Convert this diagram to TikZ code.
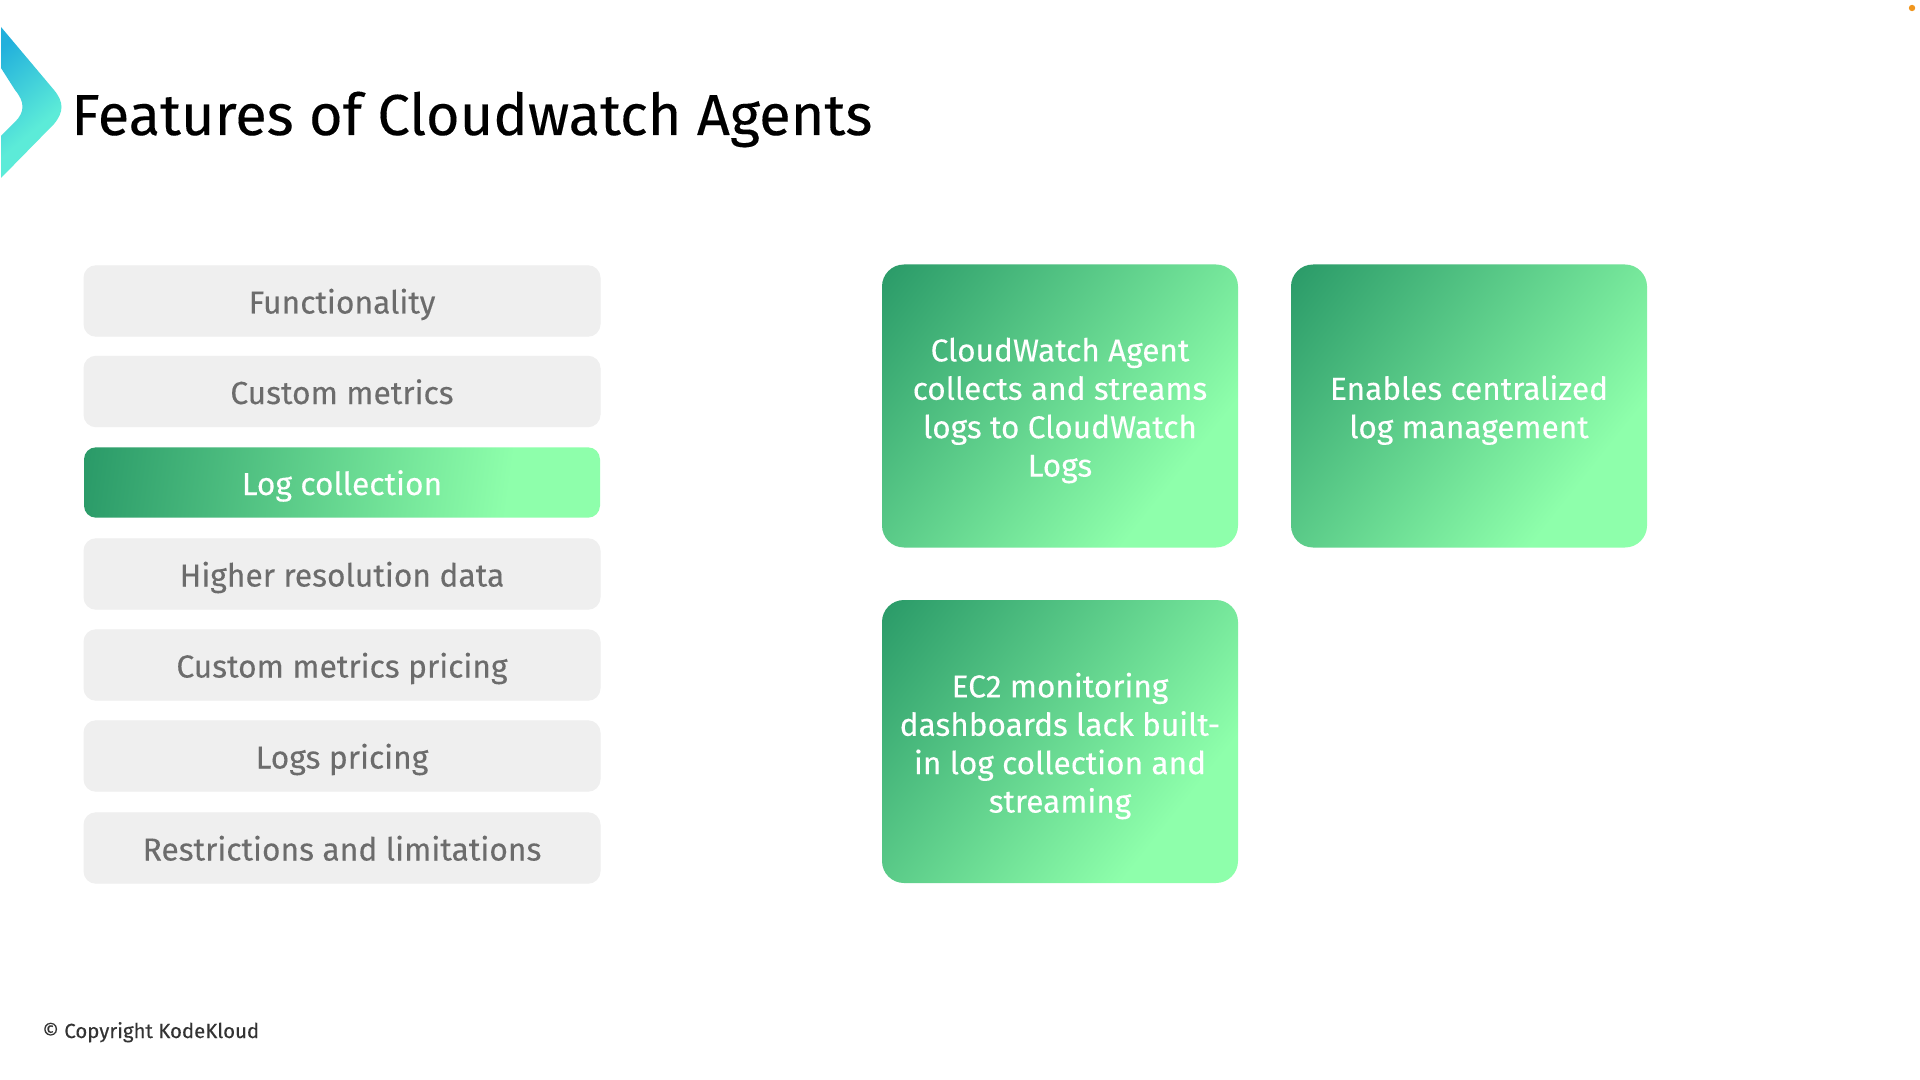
\documentclass[tikz,border=0pt]{standalone}
\usepackage{fontspec}
\setmainfont{Fira Sans}[FakeBold=0.2]
\definecolor{gdark}{HTML}{2A9A68}
\definecolor{glight}{HTML}{8EFFAB}
\definecolor{barfill}{HTML}{EFEFEF}
\definecolor{bartext}{HTML}{6C6C6C}
\definecolor{chevA}{HTML}{22B0DC}
\definecolor{chevB}{HTML}{5CEBD8}
\definecolor{dotc}{HTML}{F0961E}
\pgfdeclarehorizontalshading{cardfade}{100bp}{color(0bp)=(gdark); color(15bp)=(gdark); color(71bp)=(glight); color(100bp)=(glight)}
\pgfdeclarehorizontalshading{barfade}{100bp}{color(0bp)=(gdark); color(22bp)=(gdark); color(68bp)=(glight); color(100bp)=(glight)}
\pgfdeclarehorizontalshading{chevfade}{100bp}{color(0bp)=(chevA); color(22bp)=(chevA); color(60bp)=(chevB); color(100bp)=(chevB)}
\tikzset{
  x=0.5pt,y=-0.5pt,
  barbase/.style={minimum width=258pt,minimum height=35.2pt,inner sep=0pt,rounded corners=6pt,
    font=\fontsize{15.9}{18}\selectfont,text height=15.5pt,text depth=3pt},
  baritem/.style={barbase,fill=barfill,draw=barfill,line width=0.5pt,text=bartext},
  baron/.style={barbase,shading=barfade,shading angle=-7.8,text=white},
  card/.style={minimum width=178pt,minimum height=141.5pt,inner sep=0pt,rounded corners=11pt,
    shading=cardfade,shading angle=-38.4,text=white},
  cardtext/.style={inner sep=0pt,text=white,align=center,font=\fontsize{15.8}{19.2}\selectfont},
}
\begin{document}
\begin{tikzpicture}
\useasboundingbox (0,0) rectangle (1920,1080);
\fill[white] (0,0) rectangle (1920,1080);
% chevron
\path[shading=chevfade,shading angle=-50]
  (1,27) -- (54,90) .. controls (64,102) and (64,112) .. (54,124)
  -- (1,178) -- (1,136) -- (15,122) .. controls (25,112) and (25,102) .. (15,90) -- (1,68) -- cycle;
\node[anchor=base west,inner sep=0pt,font=\fontsize{28.9}{34}\selectfont,text=black] (title) at (71,135) {Features of Cloudwatch Agents};
% list
\node[baritem] (b1) at (342,301) {Functionality};
\node[baritem] (b2) at (342,391.5) {Custom metrics};
\node[baron]   (b3) at (342,482.5) {Log collection};
\node[baritem] (b4) at (342,574) {Higher resolution data};
\node[baritem] (b5) at (342,665) {Custom metrics pricing};
\node[baritem] (b6) at (342,756) {Logs pricing};
\node[baritem] (b7) at (342,848) {Restrictions and limitations};
% cards
\node[card] (c1) at (1060,406) {};
\node[cardtext] (t1) at (1060,410.5) {CloudWatch Agent\\collects and streams\\logs to CloudWatch\\Logs};
\node[card] (c2) at (1469,406) {};
\node[cardtext] (t2) at (1469,410) {Enables centralized\\log management};
\node[card] (c3) at (1060,741.5) {};
\node[cardtext] (t3) at (1060,746) {EC2 monitoring\\dashboards lack built-\\in log collection and\\streaming};
\node[anchor=base west,inner sep=0pt,font=\fontsize{10.2}{12}\selectfont,text=black!80] (copy) at (42,1038) {© Copyright KodeKloud};
\fill[dotc] (1912,8) circle (3.2);
\end{tikzpicture}
\end{document}
